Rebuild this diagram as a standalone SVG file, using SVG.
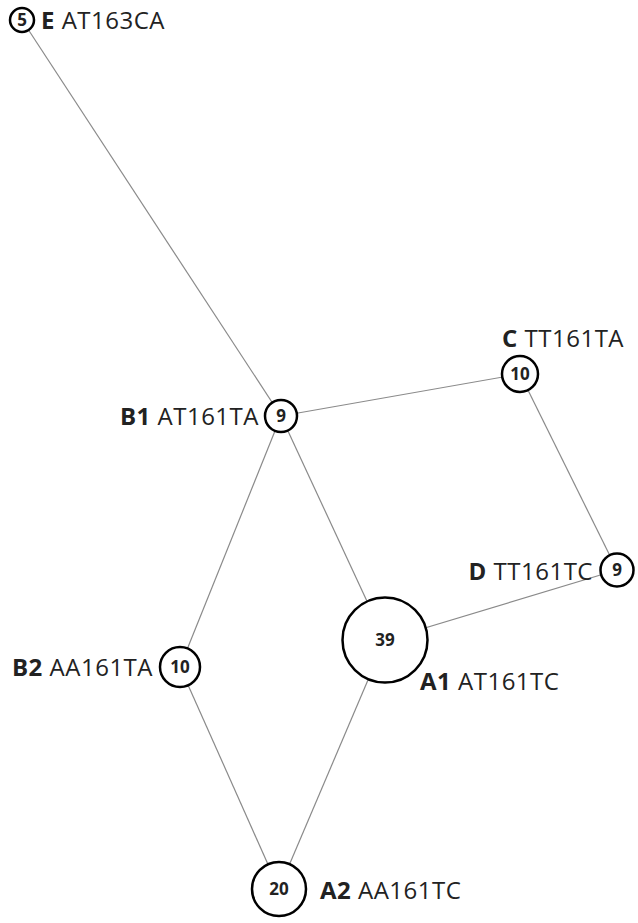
<svg xmlns="http://www.w3.org/2000/svg" width="638" height="923" viewBox="0 0 638 923">
<style>
.n{fill:#fff;stroke:#000;stroke-width:2.5}
.e{stroke:#8a8a8a;stroke-width:1.2;fill:none}
.num{font-family:"Open Sans","Liberation Sans",sans-serif;font-weight:bold;font-size:17px;fill:#222;text-anchor:middle}
.lb{font-family:"Open Sans","Liberation Sans",sans-serif;font-size:24px;letter-spacing:0.5px;fill:#222}
.b{font-weight:bold}
</style>
<rect width="638" height="923" fill="#fff"/>
<g id="edges">
<line class="e" x1="22" y1="20" x2="281" y2="416"/>
<line class="e" x1="281" y1="416" x2="520" y2="374"/>
<line class="e" x1="520" y1="374" x2="617" y2="570"/>
<line class="e" x1="281" y1="416" x2="385" y2="640"/>
<line class="e" x1="281" y1="416" x2="180" y2="667"/>
<line class="e" x1="180" y1="667" x2="279" y2="889"/>
<line class="e" x1="385" y1="640" x2="279" y2="889"/>
<line class="e" x1="385" y1="640" x2="617" y2="570"/>
</g>
<g id="E">
<circle class="n" cx="22" cy="20" r="12"/>
<text class="num" x="22" y="26">5</text>
<text class="lb" x="41" y="29"><tspan class="b">E</tspan> AT163CA</text>
</g>
<g id="B1">
<circle class="n" cx="281" cy="416" r="16"/>
<text class="num" x="281" y="422">9</text>
<text class="lb" x="259" y="425" text-anchor="end"><tspan class="b">B1</tspan> AT161TA</text>
</g>
<g id="C">
<circle class="n" cx="520" cy="374" r="18"/>
<text class="num" x="520" y="380">10</text>
<text class="lb" x="502" y="347"><tspan class="b">C</tspan> TT161TA</text>
</g>
<g id="D">
<circle class="n" cx="617" cy="570" r="16.5"/>
<text class="num" x="617" y="576">9</text>
<text class="lb" x="593" y="580" text-anchor="end"><tspan class="b">D</tspan> TT161TC</text>
</g>
<g id="A1">
<circle class="n" cx="385" cy="640" r="42.5"/>
<text class="num" x="385" y="646">39</text>
<text class="lb" x="420" y="690"><tspan class="b">A1</tspan> AT161TC</text>
</g>
<g id="B2">
<circle class="n" cx="180" cy="667" r="20"/>
<text class="num" x="180" y="673">10</text>
<text class="lb" x="153" y="676" text-anchor="end"><tspan class="b">B2</tspan> AA161TA</text>
</g>
<g id="A2">
<circle class="n" cx="279" cy="889" r="27"/>
<text class="num" x="279" y="895">20</text>
<text class="lb" x="320" y="899"><tspan class="b">A2</tspan> AA161TC</text>
</g>
</svg>
